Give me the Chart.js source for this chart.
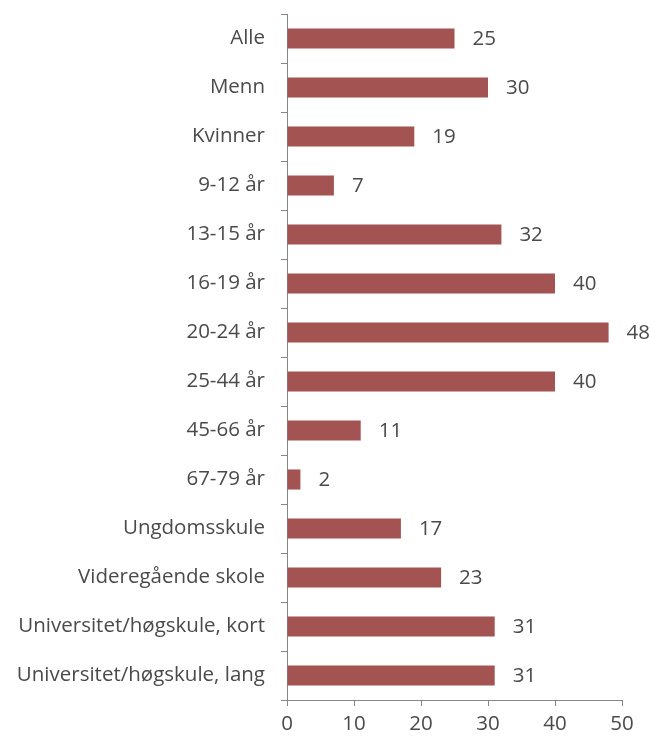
<!DOCTYPE html>
<html>
<head>
<meta charset="utf-8">
<script src="https://cdn.jsdelivr.net/npm/chart.js@4/dist/chart.umd.min.js"></script>
<style>
  html, body { margin: 0; padding: 0; background: #ffffff; }
  #wrap { width: 650px; height: 740px; position: relative; }
</style>
</head>
<body>
<div id="wrap"><canvas id="c" width="650" height="740"></canvas></div>
<script>
const categories = [
  "Alle", "Menn", "Kvinner", "9-12 år", "13-15 år", "16-19 år", "20-24 år",
  "25-44 år", "45-66 år", "67-79 år", "Ungdomsskule", "Videregående skole",
  "Universitet/høgskule, kort", "Universitet/høgskule, lang"
];
const values = [25, 30, 19, 7, 32, 40, 48, 40, 11, 2, 17, 23, 31, 31];
const xTicks = [0, 10, 20, 30, 40, 50];

const FONT = "'Open Sans', sans-serif";
const FSIZE = 20.5;
const TEXT = "#4a4a4a";
const AXIS = "#868686";

const labelPlugin = {
  id: "valueLabels",
  afterDatasetsDraw(chart) {
    const ctx = chart.ctx;
    const meta = chart.getDatasetMeta(0);
    ctx.save();
    ctx.font = FSIZE + "px " + FONT;
    ctx.fillStyle = TEXT;
    ctx.textAlign = "left";
    ctx.textBaseline = "middle";
    meta.data.forEach((bar, i) => {
      ctx.fillText(String(values[i]), bar.x + 18, bar.y + 1);
    });
    ctx.restore();
  }
};

new Chart(document.getElementById("c"), {
  type: "bar",
  data: {
    labels: categories,
    datasets: [{
      data: values,
      backgroundColor: "#A25352",
      borderWidth: 0,
      barPercentage: 0.41,
      categoryPercentage: 1.0
    }]
  },
  options: {
    indexAxis: "y",
    responsive: false,
    animation: false,
    devicePixelRatio: 1,
    layout: { padding: { left: 0, right: 28, top: 14, bottom: 0 } },
    plugins: { legend: { display: false }, tooltip: { enabled: false } },
    scales: {
      x: {
        min: 0, max: 50,
        afterBuildTicks(scale) { scale.ticks = xTicks.map(v => ({ value: v })); },
        afterFit(scale) { scale.height = 40; scale.paddingLeft = 0; scale.paddingRight = 0; },
        border: { display: true, color: AXIS, width: 1 },
        grid: { display: true, drawOnChartArea: false, drawTicks: true, tickLength: 6, color: AXIS },
        ticks: { color: TEXT, font: { family: FONT, size: FSIZE }, padding: 6, maxRotation: 0 }
      },
      y: {
        afterFit(scale) { scale.width = 287; scale.paddingTop = 0; scale.paddingBottom = 0; },
        border: { display: true, color: AXIS, width: 1 },
        grid: { display: true, drawOnChartArea: false, drawTicks: true, tickLength: 6, color: AXIS, offset: true },
        ticks: { color: TEXT, font: { family: FONT, size: FSIZE }, padding: 16, autoSkip: false }
      }
    }
  },
  plugins: [labelPlugin]
});
</script>
</body>
</html>
